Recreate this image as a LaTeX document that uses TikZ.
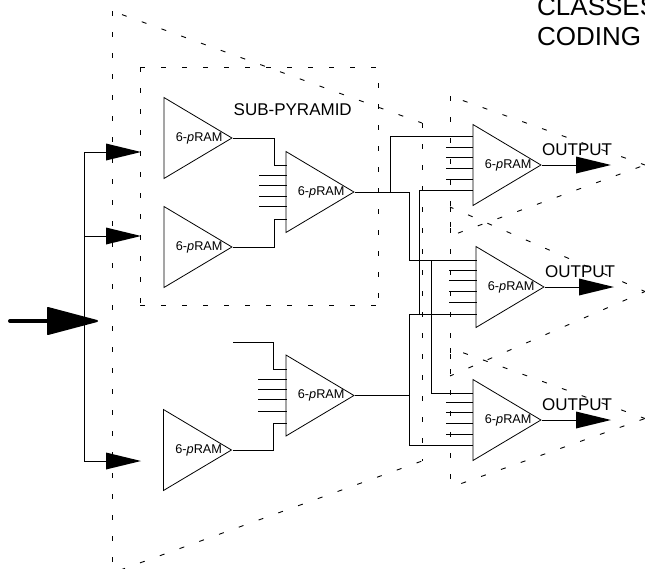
\documentclass[tikz,border=0pt]{standalone}
\usepackage{fontspec}
\setmainfont{Liberation Sans}
\usetikzlibrary{shapes.geometric}
\newcommand{\pram}{\makebox[0pt][c]{\hspace*{31pt}\raisebox{-2pt}{6-\textit{p}RAM}}}
\tikzset{
  tri/.style={draw=black,line width=0.8pt,isosceles triangle,isosceles triangle stretches,minimum width=81pt,minimum height=68pt,inner sep=0pt,font=\fontsize{12.7}{12.7}\selectfont,anchor=apex},
  wire/.style={draw=black,line width=0.8pt},
  dashline/.style={draw=black,line width=0.9pt,dash pattern=on 5pt off 16pt},
  head/.style={fill=black,draw=none},
  big/.style={font=\fontsize{17}{17}\selectfont,anchor=base west,inner sep=0pt},
  huge label/.style={font=\fontsize{26}{26}\selectfont,anchor=base west,inner sep=0pt}
}
\begin{document}
\begin{tikzpicture}[x=1pt,y=-1pt]
\useasboundingbox (0,0) rectangle (645,568);
\clip (0,0) rectangle (645,568);
% dashed outlines
\coordinate (pa) at (112,11);
\coordinate (pb) at (422,123);
\coordinate (pc) at (422,461);
\coordinate (pd) at (112,573);
\draw[dashline,dash phase=10.4pt] (pa) -- (pb);
\draw[dashline] (pb) -- (pc);
\draw[dashline,dash phase=12.2pt] (pd) -- (pc);
\draw[dashline] (pa) -- (pd);
\coordinate (ba) at (140,67);
\coordinate (bb) at (378,67);
\coordinate (bc) at (378,305);
\coordinate (bd) at (140,305);
\draw[dashline] (ba) -- (bb);
\draw[dashline] (ba) -- (bd);
\draw[dashline,dash phase=5pt] (bb) -- (bc);
\draw[dashline] (bd) -- (bc);
\coordinate (qa) at (450,96);
\coordinate (qb) at (450,236);
\coordinate (qc) at (645,165);
\draw[dashline,dash phase=7.4pt] (qa) -- (qc);
\draw[dashline] (qa) -- (qb);
\draw[dashline,dash phase=12.5pt] (qb) -- (qc);
\coordinate (ra) at (450,207);
\coordinate (rb) at (450,376);
\coordinate (rc) at (645,291.5);
\draw[dashline,dash phase=1.3pt] (ra) -- (rc);
\draw[dashline] (ra) -- (rb);
\draw[dashline,dash phase=1pt] (rb) -- (rc);
\coordinate (sa) at (450,348);
\coordinate (sb) at (450,487.5);
\coordinate (sc) at (645,418.5);
\draw[dashline,dash phase=7pt] (sa) -- (sc);
\draw[dashline] (sa) -- (sb);
\draw[dashline,dash phase=9pt] (sb) -- (sc);
% triangles
\node[tri] (t1) at (233,138) {\pram};
\node[tri] (t2) at (233,247) {\pram};
\node[tri] (t3) at (355,192) {\pram};
\node[tri] (t4) at (542,165) {\pram};
\node[tri] (t5) at (545,287) {\pram};
\node[tri] (t6) at (542,420) {\pram};
\node[tri] (t7) at (355,395.5) {\pram};
\node[tri] (t8) at (232.5,450) {\pram};
% wires
\coordinate (free) at (233,342);
\draw[wire] (t1.apex) -- (274,138) -- (274,165) -- (287,165);
\draw[wire] (t2.apex) -- (274,247) -- (274,219) -- (287,219);
\draw[wire] (free) -- (273.5,342) -- (273.5,369) -- (287,369);
\draw[wire] (t8.apex) -- (273.5,450) -- (273.5,423.5) -- (287,423.5);
\draw[wire] (t3.apex) -- (409.5,192) -- (409.5,260) -- (477,260);
\draw[wire] (390,192) -- (390,136) -- (473,136);
\draw[wire] (t7.apex) -- (409,395.5);
\draw[wire] (409,445) -- (409,314) -- (477,314);
\draw[wire] (409,445) -- (473,445);
\draw[wire] (419,314) -- (419,190) -- (473,190);
\draw[wire] (431,260) -- (431,393) -- (473,393);
\foreach \y in {175,185,196,206} \draw[wire] (259,\y) -- (287,\y);
\foreach \y in {379,389,399,411} \draw[wire] (258,\y) -- (287,\y);
\foreach \y in {147,157.5,168,179} \draw[wire] (446,\y) -- (473,\y);
\foreach \y in {270,280,291,302} \draw[wire] (449,\y) -- (477,\y);
\foreach \y in {402,412,423,434} \draw[wire] (446,\y) -- (473,\y);
% input
\coordinate (bus1) at (84,152);
\coordinate (bus2) at (84,236);
\coordinate (bus3) at (84,461);
\draw[wire] (bus1) -- (bus3);
\foreach \y in {152,236,461}{
  \draw[wire] (84,\y) -- (106,\y);
  \fill[head] (106,\y-8.5) -- (141,\y) -- (106,\y+8.5) -- cycle;
}
\draw[black,line width=4pt,line cap=round] (10,321) -- (50,321);
\draw[black,fill=black,line width=2pt,line join=round] (48,308) -- (97,321) -- (48,334) -- cycle;
% outputs
\draw[wire] (t4.apex) -- (576,165);
\fill[head] (576,156.5) -- (611,165) -- (576,173.5) -- cycle;
\draw[wire] (t5.apex) -- (579,287);
\fill[head] (579,278.5) -- (614,287) -- (579,295.5) -- cycle;
\draw[wire] (t6.apex) -- (576,420);
\fill[head] (576,411.5) -- (611,420) -- (576,428.5) -- cycle;
% labels
\node[big] (sp) at (233.5,115) {SUB-PYRAMID};
\node[big] (o1) at (542,155) {OUTPUT};
\node[big] (o2) at (545,277) {OUTPUT};
\node[big] (o3) at (542,410) {OUTPUT};
\node[huge label] (c1) at (537,15) {CLASSES};
\node[huge label] (c2) at (537,45) {CODING};
\end{tikzpicture}
\end{document}
